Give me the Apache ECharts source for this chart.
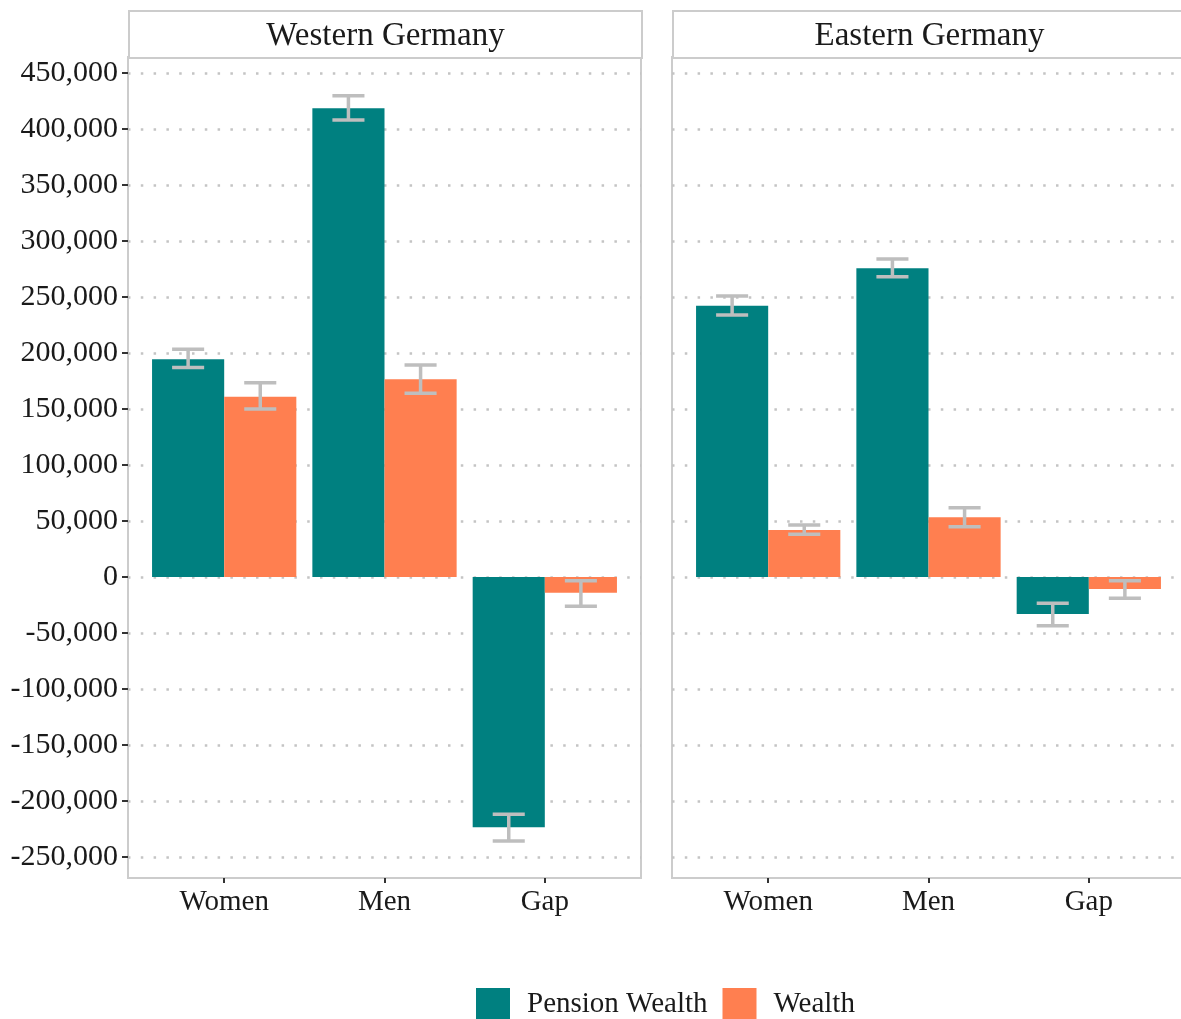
<!DOCTYPE html>
<html>
<head>
<meta charset="utf-8">
<script src="https://cdn.jsdelivr.net/npm/echarts@6/dist/echarts.min.js"></script>
<style>
  html, body { margin: 0; padding: 0; background: #FFF; }
  #chart { width: 1181px; height: 1019px; }
</style>
</head>
<body>
<div id="chart"></div>
<script>
// categories and panels
var categories = ['Women', 'Men', 'Gap'];
var panels = ['Western Germany', 'Eastern Germany'];
var yTicks = [-250000, -200000, -150000, -100000, -50000, 0, 50000, 100000, 150000, 200000, 250000, 300000, 350000, 400000, 450000];

// Western Germany
var westPension   = [194500, 418500, -223500];
var westPensionLo = [187000, 408000, -235700];
var westPensionHi = [203300, 429700, -211900];
var westWealth    = [161000, 176500, -14000];
var westWealthLo  = [150000, 164000, -26200];
var westWealthHi  = [173500, 189300, -3300];

// Eastern Germany
var eastPension   = [242200, 275600, -33000];
var eastPensionLo = [233900, 268100, -43500];
var eastPensionHi = [250900, 283900, -23500];
var eastWealth    = [42000, 53300, -10700];
var eastWealthLo  = [38100, 44900, -19000];
var eastWealthHi  = [46400, 61900, -3300];

var FONT = '"Liberation Serif", "DejaVu Serif", serif';
var TEAL = '#008080';
var CORAL = '#FF7F50';
var ERR = '#BEBEBE';
var FRAME = '#CCCCCC';

function rows(vals, lo, hi) {
  return vals.map(function (v, i) { return [i + 1, v, lo[i], hi[i]]; });
}

function commaFormat(number) {
  return (number || 0).toString().replace(/(\d)(?=(?:\d{3})+$)/g, "$1,");
}

// bar + errorbar, dodge width 0.9 -> each bar 0.45 wide
function makeRender(offset) {
  return function (params, api) {
    var x = api.value(0) + offset;
    var y = api.value(1);
    var lo = api.value(2);
    var hi = api.value(3);
    var a = api.coord([x - 0.225, 0]);
    var b = api.coord([x + 0.225, y]);
    var wl = api.coord([x - 0.1, lo]);
    var wh = api.coord([x + 0.1, hi]);
    var style = { stroke: ERR, lineWidth: 3.5 };
    return {
      type: 'group',
      children: [
        { type: 'rect', shape: { x: a[0], y: Math.min(a[1], b[1]), width: b[0] - a[0], height: Math.abs(b[1] - a[1]) },
          style: { fill: api.visual('color') } },
        { type: 'line', shape: { x1: (wl[0] + wh[0]) / 2, y1: wl[1], x2: (wl[0] + wh[0]) / 2, y2: wh[1] }, style: style },
        { type: 'line', shape: { x1: wl[0], y1: wl[1], x2: wh[0], y2: wl[1] }, style: style },
        { type: 'line', shape: { x1: wl[0], y1: wh[1], x2: wh[0], y2: wh[1] }, style: style }
      ]
    };
  };
}

var grids = [], xAxes = [], yAxes = [];
var panelLeft = [128, 672];
panelLeft.forEach(function (left, k) {
  grids.push({
    left: left, top: 57, width: 513, height: 821,
    outerBoundsMode: 'none',
    show: true, borderColor: FRAME, borderWidth: 2, backgroundColor: '#FFF'
  });
  xAxes.push({
    type: 'value', gridIndex: k, min: 0.4, max: 3.6, position: 'bottom',
    axisLine: { show: false, onZero: false },
    splitLine: { show: false },
    axisTick: { show: true, customValues: [1, 2, 3], length: 5, lineStyle: { color: '#333', width: 2 } },
    axisLabel: {
      customValues: [1, 2, 3], margin: 10,
      color: '#1A1A1A', fontFamily: FONT, fontSize: 29,
      formatter: function (v) { return categories[Math.round(v) - 1]; }
    }
  });
  yAxes.push({
    type: 'value', gridIndex: k, min: -268750, max: 464286,
    axisLine: { show: false, onZero: false },
    axisTick: { show: k === 0, customValues: yTicks, length: 6, lineStyle: { color: '#333', width: 2 } },
    axisLabel: {
      show: k === 0, customValues: yTicks, margin: 10,
      color: '#1A1A1A', fontFamily: FONT, fontSize: 30,
      formatter: function (v) { return commaFormat(v); }
    },
    splitLine: { show: true, lineStyle: { color: '#C4C4C4', width: 2.5, type: [2.5, 10.3] } }
  });
});

var chart = echarts.init(document.getElementById('chart'));
chart.setOption({
  animation: false,
  backgroundColor: '#FFF',
  grid: grids,
  xAxis: xAxes,
  yAxis: yAxes,
  legend: {
    left: 471, top: 983,
    itemWidth: 34, itemHeight: 33, itemGap: 15,
    icon: 'rect',
    data: ['Pension Wealth', 'Wealth'],
    textStyle: { fontFamily: FONT, fontSize: 29, color: '#1A1A1A', padding: [0, 0, 0, 12] }
  },
  graphic: panels.map(function (name, k) {
    return {
      type: 'group', left: panelLeft[k], top: 10,
      children: [
        { type: 'rect', shape: { x: 0, y: 0, width: 513, height: 47 }, style: { fill: '#FFF', stroke: FRAME, lineWidth: 2 } },
        { type: 'text', x: 256.5, y: 25, style: { text: name, font: '33px ' + FONT, fill: '#1A1A1A', align: 'center', verticalAlign: 'middle' } }
      ]
    };
  }),
  series: [
    { name: 'Pension Wealth', type: 'custom', xAxisIndex: 0, yAxisIndex: 0, itemStyle: { color: TEAL },
      renderItem: makeRender(-0.225), data: rows(westPension, westPensionLo, westPensionHi) },
    { name: 'Wealth', type: 'custom', xAxisIndex: 0, yAxisIndex: 0, itemStyle: { color: CORAL },
      renderItem: makeRender(0.225), data: rows(westWealth, westWealthLo, westWealthHi) },
    { name: 'Pension Wealth', type: 'custom', xAxisIndex: 1, yAxisIndex: 1, itemStyle: { color: TEAL },
      renderItem: makeRender(-0.225), data: rows(eastPension, eastPensionLo, eastPensionHi) },
    { name: 'Wealth', type: 'custom', xAxisIndex: 1, yAxisIndex: 1, itemStyle: { color: CORAL },
      renderItem: makeRender(0.225), data: rows(eastWealth, eastWealthLo, eastWealthHi) }
  ]
});
</script>
</body>
</html>
